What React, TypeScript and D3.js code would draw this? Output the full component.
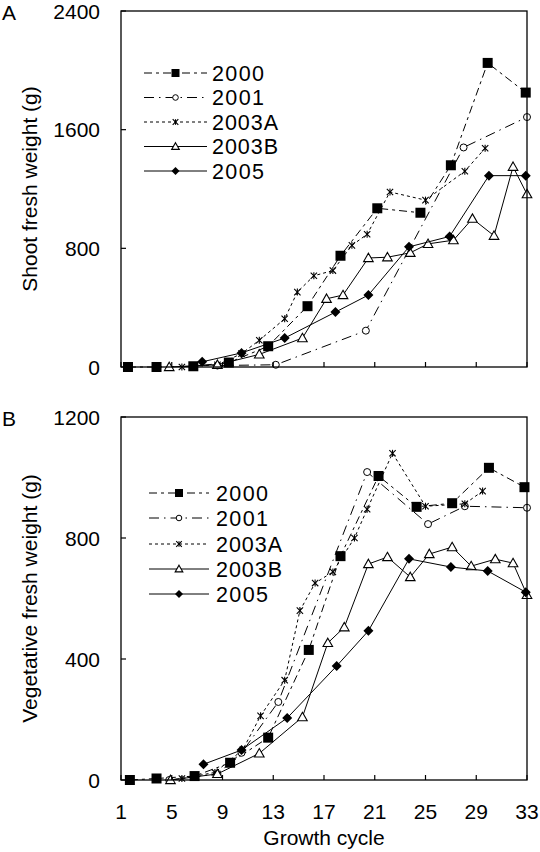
import React from "react";
import * as d3 from "d3";

// ---------- Tick labels ----------
const xTicks = [1, 5, 9, 13, 17, 21, 25, 29, 33];
const yTicksA = [0, 800, 1600, 2400];
const yTicksB = [0, 400, 800, 1200];

const seriesNames = ["2000", "2001", "2003A", "2003B", "2005"];

// ---------- Panel A: shoot fresh weight ----------
const a2000X = [1.55, 3.8, 6.7, 9.5, 12.6, 15.7, 18.3, 21.2, 24.6, 27, 29.9, 32.9];
const a2000Y = [0, 0, 5, 30, 140, 410, 750, 1070, 1040, 1360, 2050, 1850];
const a2001X = [8.6, 13.2, 20.3, 28, 33];
const a2001Y = [10, 15, 245, 1480, 1685];
const a2003AX = [5.8, 8.6, 10.5, 11.9, 13.9, 14.9, 16.2, 17.7, 19.2, 20.4, 22.2, 25, 28.1, 29.7];
const a2003AY = [0, 15, 90, 180, 325, 505, 615, 650, 820, 895, 1180, 1125, 1320, 1475];
const a2003BX = [4.8, 8.6, 11.9, 15.3, 17.2, 18.5, 20.5, 22, 23.8, 25.2, 27.2, 28.7, 30.4, 31.9, 33];
const a2003BY = [0, 15, 85, 195, 460, 485, 735, 740, 770, 830, 855, 1000, 885, 1350, 1165];
const a2005X = [7.4, 10.5, 13.9, 17.9, 20.5, 23.7, 26.9, 30, 32.9];
const a2005Y = [35, 95, 195, 370, 485, 810, 880, 1290, 1290];

// ---------- Panel B: vegetative fresh weight ----------
const b2000X = [1.7, 3.8, 6.8, 9.6, 12.6, 15.8, 18.3, 21.3, 24.3, 27.1, 30, 32.8];
const b2000Y = [0, 5, 13, 57, 140, 430, 740, 1005, 903, 915, 1032, 968];
const b2001X = [4.8, 8.6, 10.5, 13.4, 20.4, 25.2, 28.1, 33];
const b2001Y = [0, 20, 90, 258, 1018, 846, 905, 900];
const b2003AX = [5.8, 8.4, 10.6, 12, 13.9, 15.1, 16.3, 17.7, 19.4, 20.4, 22.4, 25, 28.1, 29.5];
const b2003AY = [5, 25, 100, 212, 330, 560, 651, 688, 800, 895, 1080, 905, 913, 955];
const b2003BX = [4.9, 8.6, 11.9, 15.3, 17.3, 18.6, 20.5, 22, 23.8, 25.3, 27.1, 28.6, 30.5, 31.9, 33];
const b2003BY = [0, 20, 88, 208, 453, 505, 714, 737, 671, 747, 770, 707, 730, 717, 612];
const b2005X = [7.5, 10.5, 14.1, 18, 20.5, 23.7, 27, 29.9, 32.9];
const b2005Y = [52, 99, 205, 377, 493, 731, 704, 691, 621];

const dashes: Record<string, string | undefined> = {
  "2000": "8,4,3,4",
  "2001": "10,5,1.5,5",
  "2003A": "3,3",
  "2003B": undefined,
  "2005": undefined,
};

const FONT = "'Liberation Sans', Arial, Helvetica, sans-serif";

function Marker({ name, x, y, legend }: { name: string; x: number; y: number; legend?: boolean }) {
  const k = legend ? 0.8 : 1;
  if (name === "2000") {
    const s = 10 * k;
    return <rect x={x - s / 2} y={y - s / 2} width={s} height={s} fill="#000" />;
  }
  if (name === "2001") {
    return <circle cx={x} cy={y} r={3.5 * k} fill="#fff" stroke="#000" strokeWidth={1} />;
  }
  if (name === "2003A") {
    const p = d3.symbol().type(d3.symbolTimes).size(28 * k)();
    const p2 = `M0,${-3.5 * k}L0,${3.5 * k}`;
    return (
      <g transform={`translate(${x},${y})`}>
        <path d={p || ""} fill="none" stroke="#000" strokeWidth={1.1} />
        <path d={p2} fill="none" stroke="#000" strokeWidth={1.1} />
      </g>
    );
  }
  if (name === "2003B") {
    const s = 4.8 * k;
    return (
      <path
        d={`M${x},${y - s}L${x + s},${y + s * 0.75}L${x - s},${y + s * 0.75}Z`}
        fill="#fff"
        stroke="#000"
        strokeWidth={1.1}
      />
    );
  }
  const s = 5 * k;
  return <path d={`M${x},${y - s}L${x + s},${y}L${x},${y + s}L${x - s},${y}Z`} fill="#000" />;
}

type Series = { name: string; xs: number[]; ys: number[] };

function Panel({
  top,
  bottom,
  yMax,
  yTicks,
  series,
  label,
  title,
  legendX,
  legendY,
  legendTextX,
  showXLabels,
}: {
  top: number;
  bottom: number;
  yMax: number;
  yTicks: number[];
  series: Series[];
  label: string;
  title: string;
  legendX: [number, number];
  legendY: number[];
  legendTextX: number;
  showXLabels: boolean;
}) {
  const left = 121;
  const right = 527;
  const x = d3.scaleLinear().domain([1, 33]).range([left, right]);
  const y = d3.scaleLinear().domain([0, yMax]).range([bottom, top]);
  const line = d3
    .line<[number, number]>()
    .x((d) => x(d[0]))
    .y((d) => y(d[1]));
  const legendMid = (legendX[0] + legendX[1]) / 2;
  return (
    <g fontFamily={FONT} fill="#000">
      <text x={2} y={top + 9} fontSize={21}>
        {label}
      </text>
      <text
        transform={`translate(37,${(top + bottom) / 2}) rotate(-90)`}
        textAnchor="middle"
        fontSize={21}
      >
        {title}
      </text>
      {series.map((s) => {
        const pts = s.xs.map((v, i) => [v, s.ys[i]] as [number, number]);
        return (
          <g key={s.name}>
            <path
              d={line(pts) || ""}
              fill="none"
              stroke="#000"
              strokeWidth={1}
              strokeDasharray={dashes[s.name]}
            />
            {pts.map((p, i) => (
              <Marker key={i} name={s.name} x={x(p[0])} y={y(p[1])} />
            ))}
          </g>
        );
      })}
      <rect x={left} y={top} width={right - left} height={bottom - top} fill="none" stroke="#000" strokeWidth={1.3} />
      {xTicks.map((t) => (
        <line key={t} x1={x(t)} x2={x(t)} y1={bottom} y2={bottom - 5} stroke="#000" strokeWidth={1.2} />
      ))}
      {yTicks.map((t) => (
        <g key={t}>
          <line x1={left} x2={left + 5} y1={y(t)} y2={y(t)} stroke="#000" strokeWidth={1.2} />
          <text x={100} y={y(t)} dy="0.36em" textAnchor="end" fontSize={21}>
            {t}
          </text>
        </g>
      ))}
      {showXLabels &&
        xTicks.map((t) => (
          <text key={t} x={x(t)} y={bottom + 39} textAnchor="middle" fontSize={21}>
            {t}
          </text>
        ))}
      {showXLabels && (
        <text x={(left + right) / 2} y={bottom + 65} textAnchor="middle" fontSize={21}>
          Growth cycle
        </text>
      )}
      {seriesNames.map((n, i) => (
        <g key={n}>
          <line
            x1={legendX[0]}
            x2={legendX[1]}
            y1={legendY[i]}
            y2={legendY[i]}
            stroke="#000"
            strokeWidth={1}
            strokeDasharray={dashes[n]}
          />
          <Marker name={n} x={legendMid} y={legendY[i]} legend />
          <text x={legendTextX} y={legendY[i]} dy="0.36em" fontSize={21.5} textLength={n.length > 4 ? 66 : 52}>
            {n}
          </text>
        </g>
      ))}
    </g>
  );
}

export default function App() {
  const seriesA: Series[] = [
    { name: "2000", xs: a2000X, ys: a2000Y },
    { name: "2001", xs: a2001X, ys: a2001Y },
    { name: "2003A", xs: a2003AX, ys: a2003AY },
    { name: "2003B", xs: a2003BX, ys: a2003BY },
    { name: "2005", xs: a2005X, ys: a2005Y },
  ];
  const seriesB: Series[] = [
    { name: "2000", xs: b2000X, ys: b2000Y },
    { name: "2001", xs: b2001X, ys: b2001Y },
    { name: "2003A", xs: b2003AX, ys: b2003AY },
    { name: "2003B", xs: b2003BX, ys: b2003BY },
    { name: "2005", xs: b2005X, ys: b2005Y },
  ];
  return (
    <svg
      width={540}
      height={852}
      style={{ position: "absolute", left: 0, top: 0, background: "#fff" }}
    >
      <rect width={540} height={852} fill="#fff" />
      <Panel
        top={11}
        bottom={367}
        yMax={2400}
        yTicks={yTicksA}
        series={seriesA}
        label="A"
        title="Shoot fresh weight (g)"
        legendX={[144, 207]}
        legendY={[73, 97.5, 122, 146.5, 171]}
        legendTextX={212}
        showXLabels={false}
      />
      <Panel
        top={417}
        bottom={780}
        yMax={1200}
        yTicks={yTicksB}
        series={seriesB}
        label="B"
        title="Vegetative fresh weight (g)"
        legendX={[149, 209]}
        legendY={[493, 518, 544, 569, 594]}
        legendTextX={216}
        showXLabels={true}
      />
    </svg>
  );
}
